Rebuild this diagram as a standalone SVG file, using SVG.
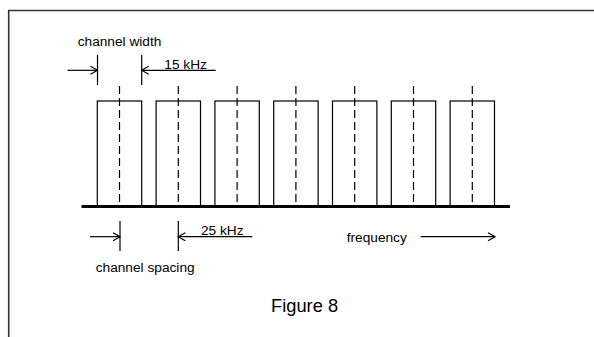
<svg xmlns="http://www.w3.org/2000/svg" width="594" height="337" viewBox="0 0 594 337">
<style>
.t{font-family:"Liberation Sans",Arial,sans-serif;font-size:13.7px;fill:#000}
.big{font-size:18.3px}
.ln{stroke:#000;stroke-width:1.2;fill:none}
.box{stroke:#000;stroke-width:1.2;fill:none}
.dash{stroke:#000;stroke-width:1.2;stroke-dasharray:8,4;fill:none}
.ah{stroke:#000;stroke-width:1.2;fill:none}
</style>
<defs>
<marker id="arr" markerWidth="10" markerHeight="10" refX="8" refY="5" orient="auto" markerUnits="userSpaceOnUse">
<path d="M1,1 L8,5 L1,9" class="ah"/>
</marker>
</defs>
<rect width="594" height="337" fill="#fff"/>
<g id="frame">
<path d="M8.7,337 V10.5 H594" stroke="#333" stroke-width="1.6" fill="none"/>
</g>
<g id="channels">
<g id="ch1"><rect class="box" x="97.3" y="101" width="44.4" height="105"/><line class="dash" x1="119.5" y1="86" x2="119.5" y2="206"/></g>
<g id="ch2"><rect class="box" x="156.1" y="101" width="44.4" height="105"/><line class="dash" x1="178.3" y1="86" x2="178.3" y2="206"/></g>
<g id="ch3"><rect class="box" x="214.9" y="101" width="44.4" height="105"/><line class="dash" x1="237.1" y1="86" x2="237.1" y2="206"/></g>
<g id="ch4"><rect class="box" x="273.7" y="101" width="44.4" height="105"/><line class="dash" x1="295.9" y1="86" x2="295.9" y2="206"/></g>
<g id="ch5"><rect class="box" x="332.5" y="101" width="44.4" height="105"/><line class="dash" x1="354.7" y1="86" x2="354.7" y2="206"/></g>
<g id="ch6"><rect class="box" x="391.3" y="101" width="44.4" height="105"/><line class="dash" x1="413.5" y1="86" x2="413.5" y2="206"/></g>
<g id="ch7"><rect class="box" x="450.1" y="101" width="44.4" height="105"/><line class="dash" x1="472.3" y1="86" x2="472.3" y2="206"/></g>
</g>
<g id="axis"><line x1="81.5" y1="206.5" x2="510" y2="206.5" stroke="#000" stroke-width="3.2"/></g>
<g id="connectors">
<line class="ln" x1="97.5" y1="55" x2="97.5" y2="85"/>
<line class="ln" x1="141.7" y1="55" x2="141.7" y2="85"/>
<line class="ln" x1="67.5" y1="70.3" x2="97.5" y2="70.3" marker-end="url(#arr)"/>
<line class="ln" x1="215.7" y1="70.3" x2="141.7" y2="70.3" marker-end="url(#arr)"/>
<line class="ln" x1="120" y1="221" x2="120" y2="251"/>
<line class="ln" x1="178.3" y1="221" x2="178.3" y2="251"/>
<line class="ln" x1="90" y1="236.7" x2="120" y2="236.7" marker-end="url(#arr)"/>
<line class="ln" x1="252.3" y1="236.7" x2="178.3" y2="236.7" marker-end="url(#arr)"/>
<line class="ln" x1="420.7" y1="236.7" x2="495" y2="236.7" marker-end="url(#arr)"/>
</g>
<g id="labels">
<text class="t" x="77.7" y="46">channel width</text>
<text class="t" x="164.3" y="69">15 kHz</text>
<text class="t" x="201" y="235">25 kHz</text>
<text class="t" x="95.7" y="272.3">channel spacing</text>
<text class="t" x="346.7" y="242.3">frequency</text>
<text class="t big" x="271" y="312.3">Figure 8</text>
</g>
</svg>
